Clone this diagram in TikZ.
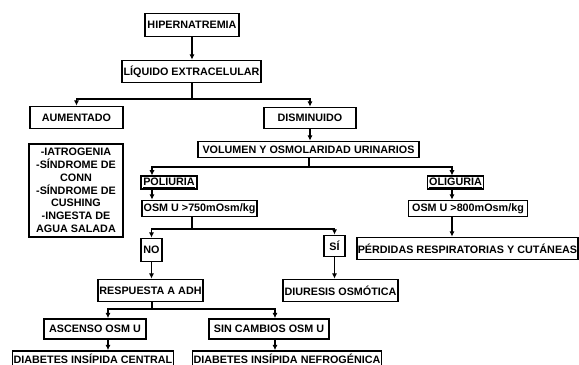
\documentclass[tikz,border=0pt]{standalone}
\usepackage{fontspec}
\setmainfont{Liberation Sans}
\usetikzlibrary{arrows.meta}

\tikzset{
  caja/.style={draw, line width=1.5pt, fill=white, inner sep=1pt, align=center,
    font=\bfseries\fontsize{9.2}{10.9}\selectfont},
  wh/.style 2 args={minimum width=#1*0.03cm, minimum height=#2*0.03cm},
  flecha/.style={-{Latex[length=4.5pt,width=4.5pt]}, line width=0.9pt},
  linea/.style={line width=0.9pt}
}

\begin{document}
\begin{tikzpicture}[x=0.03cm,y=-0.03cm]

\useasboundingbox (0,0) rectangle (579,365);
\clip (0,0) rectangle (579,365);

\node[caja, wh={94}{23}]  (hiper)      at (192,25)     {HIPERNATREMIA};
\node[caja, wh={139}{22}] (liquido)    at (191.5,71.5) {LÍQUIDO EXTRACELULAR};
\node[caja, wh={93}{22}]  (aumentado)  at (76.5,117.5) {AUMENTADO};
\node[caja, wh={92}{21}]  (disminuido) at (310,118)    {DISMINUIDO};
\node[caja, wh={94}{93}]  (causas)     at (76,190.5)
  {-IATROGENIA\\-SÍNDROME DE\\CONN\\-SÍNDROME DE\\CUSHING\\-INGESTA DE\\AGUA SALADA};
\node[caja, wh={221}{16}] (volumen)    at (308.5,149.5) {VOLUMEN Y OSMOLARIDAD URINARIOS};
\node[caja, wh={56}{12}]  (poliuria)   at (169,182.5)  {\underline{POLIURIA}};
\node[caja, wh={56}{12}]  (oliguria)   at (455.5,182.5) {\underline{OLIGURIA}};
\node[caja, wh={115}{16}] (osmA)       at (199.5,208.5) {OSM U >750mOsm/kg};
\node[caja, wh={119}{16}] (osmB)       at (468,208.5)  {OSM U >800mOsm/kg};
\node[caja, wh={21}{23}]  (no)         at (151.5,250)  {NO};
\node[caja, wh={21}{21}]  (si)         at (334.5,246)  {SÍ};
\node[caja, wh={219}{22}] (perdidas)   at (467.5,248.5) {PÉRDIDAS RESPIRATORIAS Y CUTÁNEAS};
\node[caja, wh={105}{22}] (respuesta)  at (150.5,290.5) {RESPUESTA A ADH};
\node[caja, wh={113}{22}] (diuresis)   at (340.5,290.5) {DIURESIS OSMÓTICA};
\node[caja, wh={102}{20}] (ascenso)    at (95,329)     {ASCENSO OSM U};
\node[caja, wh={120}{20}] (sincambios) at (269,329)    {SIN CAMBIOS OSM U};
\node[caja, wh={158}{16}] (central)    at (93,359)     {DIABETES INSÍPIDA CENTRAL};
\node[caja, wh={189}{16}] (nefro)      at (287,359)    {DIABETES INSÍPIDA NEFROGÉNICA};

% puntos de ramificacion
\coordinate (j1) at (192,99);
\coordinate (j2) at (309,167);
\coordinate (j3) at (192,229);
\coordinate (j4) at (152,309);
\coordinate (xl) at (152,0);
\coordinate (xr) at (452,0);
\coordinate (xa) at (108,0);
\coordinate (xb) at (275,0);

\draw[flecha] (hiper.south) -- (hiper.south |- liquido.north);
\draw[linea]  (liquido.south -| j1) -- (j1);
\draw[flecha] (j1) -| (aumentado.north);
\draw[flecha] (j1) -| (disminuido.north);
\draw[flecha] (disminuido.south) -- (disminuido.south |- volumen.north);

\draw[linea]  (volumen.south -| j2) -- (j2);
\draw[flecha] (j2) -| (poliuria.north -| xl);
\draw[flecha] (j2) -| (oliguria.north -| xr);
\draw[flecha] (poliuria.south -| xl) -- (osmA.north -| xl);
\draw[flecha] (oliguria.south -| xr) -- (osmB.north -| xr);
\draw[flecha] (osmB.south -| xr) -- (perdidas.north -| xr);

\draw[linea]  (osmA.south -| j3) -- (j3);
\draw[flecha] (j3) -| (no.north);
\draw[flecha] (j3) -| (si.north);
\draw[flecha] (no.south) -- (no.south |- respuesta.north);
\draw[flecha] (si.south) -- (si.south |- diuresis.north);

\draw[linea]  (respuesta.south -| j4) -- (j4);
\draw[flecha] (j4) -| (ascenso.north -| xa);
\draw[flecha] (j4) -| (sincambios.north -| xb);
\draw[flecha] (ascenso.south -| xa) -- (central.north -| xa);
\draw[flecha] (sincambios.south -| xb) -- (nefro.north -| xb);

\end{tikzpicture}
\end{document}
